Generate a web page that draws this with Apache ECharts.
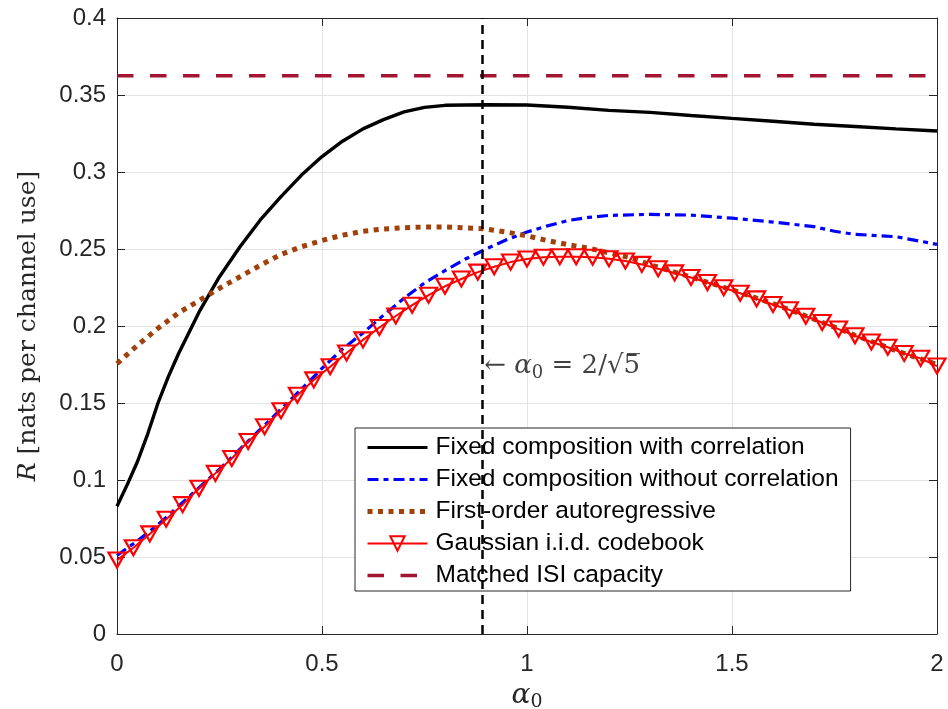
<!DOCTYPE html>
<html>
<head>
<meta charset="utf-8">
<script src="https://cdn.jsdelivr.net/npm/echarts@6/dist/echarts.min.js"></script>
<style>
html,body{margin:0;padding:0;background:#fff;}
#c{width:948px;height:709px;}
</style>
</head>
<body>
<div id="c"></div>
<script>
// ---- data ----
const blackX = [0,0.025,0.05,0.075,0.1,0.125,0.15,0.2,0.25,0.3,0.35,0.4,0.45,0.5,0.55,0.6,0.65,0.7,0.75,0.8,0.9,1.0,1.1,1.2,1.3,1.4,1.5,1.6,1.7,1.8,1.9,2.0];
const blackY = [0.083,0.097,0.112,0.130,0.150,0.167,0.182,0.209,0.232,0.2515,0.269,0.284,0.298,0.310,0.320,0.328,0.334,0.339,0.342,0.3433,0.3437,0.3435,0.342,0.340,0.3387,0.3367,0.3348,0.333,0.331,0.3295,0.328,0.3266];

const blueX = [0,0.05,0.1,0.15,0.2,0.25,0.3,0.35,0.4,0.45,0.5,0.55,0.6,0.65,0.7,0.75,0.8,0.85,0.9,0.95,1.0,1.05,1.1,1.15,1.2,1.3,1.4,1.5,1.6,1.7,1.75,1.8,1.9,2.0];
const blueY = [0.051,0.0605,0.071,0.083,0.095,0.107,0.120,0.133,0.146,0.159,0.1725,0.185,0.1955,0.207,0.218,0.228,0.236,0.2435,0.250,0.256,0.261,0.265,0.2685,0.2705,0.2718,0.2725,0.272,0.270,0.2675,0.2645,0.2615,0.2595,0.258,0.253];

const brownX = [0,0.05,0.1,0.15,0.2,0.25,0.3,0.35,0.4,0.45,0.5,0.55,0.6,0.65,0.7,0.75,0.8,0.85,0.9,0.95,1.0,1.05,1.1,1.15,1.2,1.25,1.3,1.4,1.5,1.6,1.7,1.8,1.9,2.0];
const brownY = [0.1755,0.1875,0.1985,0.2085,0.2165,0.2245,0.232,0.2395,0.2465,0.2515,0.2555,0.259,0.2615,0.263,0.2638,0.2643,0.2643,0.2637,0.263,0.261,0.2585,0.2555,0.2528,0.2505,0.2475,0.2445,0.2398,0.2318,0.2235,0.2145,0.2045,0.194,0.184,0.175];

const gaussX = [0,0.04,0.08,0.12,0.16,0.2,0.24,0.28,0.32,0.36,0.4,0.44,0.48,0.52,0.56,0.6,0.64,0.68,0.72,0.76,0.8,0.84,0.88,0.92,0.96,1.0,1.04,1.08,1.12,1.16,1.2,1.24,1.28,1.32,1.36,1.4,1.44,1.48,1.52,1.56,1.6,1.64,1.68,1.72,1.76,1.8,1.84,1.88,1.92,1.96,2.0];
const gaussY = [0.048,0.056,0.065,0.0745,0.084,0.0946,0.1043,0.114,0.125,0.1346,0.145,0.155,0.165,0.1735,0.1825,0.191,0.199,0.2065,0.2135,0.220,0.2258,0.2305,0.235,0.2385,0.2415,0.2435,0.2447,0.245,0.245,0.2447,0.2437,0.2422,0.2400,0.2372,0.2345,0.2315,0.2282,0.2248,0.2213,0.2176,0.214,0.2105,0.2063,0.2023,0.198,0.1937,0.1896,0.1862,0.1822,0.179,0.174];

const capacityX = [0, 2];
const capacityY = [0.3625, 0.3625];

const alphaMark = 2/Math.sqrt(5);
const annotationY = 0.175;

const xTicks = ['0','0.5','1','1.5','2'];
const seriesNames = ['Fixed composition with correlation','Fixed composition without correlation','First-order autoregressive','Gaussian i.i.d. codebook','Matched ISI capacity'];

const zip = (xs, ys) => xs.map((x, i) => [x, ys[i]]);

const chart = echarts.init(document.getElementById('c'), null, {renderer:'canvas'});
const axisColor = '#262626';
const sans = 'Liberation Sans, Arial, Helvetica, sans-serif';
const serif = 'DejaVu Serif, serif';
const tickFont = {fontFamily:sans, fontSize:24, color:axisColor};

chart.setOption({
  animation:false,
  backgroundColor:'#fff',
  grid:{left:117, right:11, top:18, bottom:75, containLabel:false, outerBoundsMode:'none'},
  xAxis:[{
    type:'value', min:0, max:2, interval:0.5,
    axisLine:{show:true, onZero:false, lineStyle:{color:axisColor, width:1}},
    axisTick:{show:true, inside:true, length:8, lineStyle:{color:axisColor}},
    axisLabel:Object.assign({margin:18, formatter:(v)=>{const i=Math.round(v/0.5);return xTicks[i]!==undefined?xTicks[i]:'';}}, tickFont),
    splitLine:{show:true, lineStyle:{color:'#e3e3e3', width:1}},
    name:'{i|α}{s|0}', nameLocation:'middle', nameGap:45,
    nameTextStyle:{rich:{
      i:{fontFamily:serif, fontStyle:'italic', fontSize:28, color:axisColor},
      s:{fontFamily:serif, fontSize:19, color:axisColor, padding:[14,0,0,0]}
    }}
  },{
    type:'value', min:0, max:2, interval:0.5, position:'top',
    axisLine:{show:true, onZero:false, lineStyle:{color:axisColor, width:1}},
    axisTick:{show:true, inside:true, length:8, lineStyle:{color:axisColor}},
    axisLabel:{show:false}, splitLine:{show:false}
  }],
  yAxis:[{
    type:'value', min:0, max:0.4, interval:0.05,
    axisLine:{show:true, onZero:false, lineStyle:{color:axisColor, width:1}},
    axisTick:{show:true, inside:true, length:8, lineStyle:{color:axisColor}},
    axisLabel:Object.assign({margin:11}, tickFont),
    splitLine:{show:true, lineStyle:{color:'#e3e3e3', width:1}},
    name:'{i|R} [nats per channel use]', nameLocation:'middle', nameGap:76, nameRotate:90,
    nameTextStyle:{fontFamily:serif, fontSize:25, color:axisColor, rich:{
      i:{fontFamily:serif, fontStyle:'italic', fontSize:25, color:axisColor}
    }}
  },{
    type:'value', min:0, max:0.4, interval:0.05, position:'right',
    axisLine:{show:true, onZero:false, lineStyle:{color:axisColor, width:1}},
    axisTick:{show:true, inside:true, length:8, lineStyle:{color:axisColor}},
    axisLabel:{show:false}, splitLine:{show:false}
  }],
  legend:{
    orient:'vertical', left:355, top:428,
    backgroundColor:'#fff', borderColor:axisColor, borderWidth:1, borderRadius:0,
    padding:[7,12,3,10], itemGap:7, itemWidth:60, itemHeight:18,
    textStyle:{fontFamily:sans, fontSize:24.5, color:'#000', padding:[0,0,0,3]},
    data:[
      {name:seriesNames[0], itemStyle:{opacity:0}, lineStyle:{width:3.2}},
      {name:seriesNames[1], itemStyle:{opacity:0}, lineStyle:{width:3.2}},
      {name:seriesNames[2], itemStyle:{opacity:0}, lineStyle:{width:5}},
      {name:seriesNames[3], lineStyle:{width:2}},
      {name:seriesNames[4], itemStyle:{opacity:0}, lineStyle:{width:3.5}}
    ]
  },
  series:[
    {name:seriesNames[0], type:'line', data:zip(blackX, blackY), showSymbol:false, symbol:'none',
     lineStyle:{color:'#000', width:3.4}, itemStyle:{color:'#000'}},
    {name:seriesNames[1], type:'line', data:zip(blueX, blueY), showSymbol:false, symbol:'none',
     lineStyle:{color:'#0000ff', width:3.2, type:[11,5,5,5]}, itemStyle:{color:'#0000ff'}},
    {name:seriesNames[2], type:'line', data:zip(brownX, brownY), showSymbol:false, symbol:'none',
     lineStyle:{color:'#a0400a', width:5, type:[5,5.5], cap:'butt'}, itemStyle:{color:'#a0400a'}},
    {name:seriesNames[3], type:'line', data:zip(gaussX, gaussY), showSymbol:true, symbol:'triangle', symbolRotate:180, symbolSize:[17,15],
     lineStyle:{color:'#ff0000', width:2}, itemStyle:{color:'rgba(255,255,255,0)', borderColor:'#ff0000', borderWidth:2.2}},
    {name:seriesNames[4], type:'line', data:zip(capacityX, capacityY), showSymbol:false, symbol:'none',
     lineStyle:{color:'#a2142f', width:3.5, type:[16.5,16.5]}, itemStyle:{color:'#a2142f'},
     markLine:{silent:true, symbol:['none','none'], label:{show:false},
       lineStyle:{color:'#000', width:2.5, type:[9,6]},
       data:[{xAxis:alphaMark}]}},
    {name:'annotation', type:'scatter', data:[[alphaMark, annotationY]], symbol:'circle', symbolSize:1,
     itemStyle:{color:'rgba(0,0,0,0)'}, z:10, silent:true,
     label:{show:true, position:'right', distance:0, offset:[0,2],
       formatter:'{a|←}{i| α}{s|0}{a| = 2/√5\u0305}',
       rich:{
         a:{fontFamily:serif, fontSize:26, color:'#111'},
         i:{fontFamily:serif, fontStyle:'italic', fontSize:26, color:'#111'},
         s:{fontFamily:serif, fontSize:18, color:'#111', padding:[13,0,0,0]}
       }}}
  ]
});
</script>
</body>
</html>
